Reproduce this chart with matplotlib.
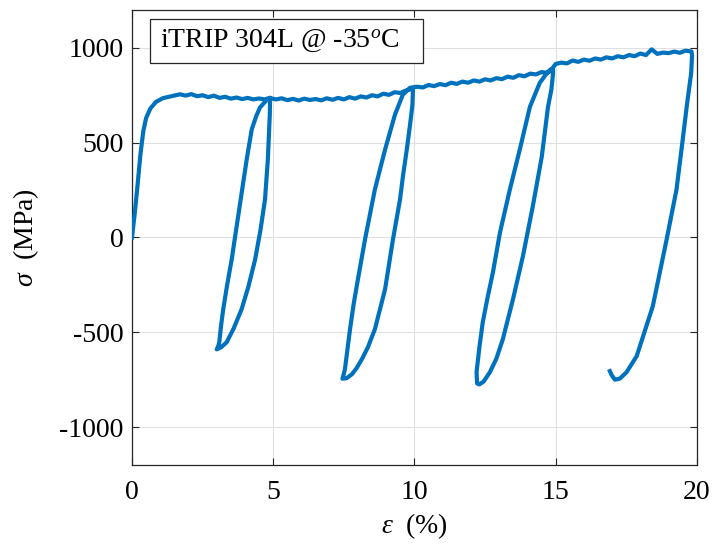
import numpy as np
import matplotlib
matplotlib.use('Agg')
import matplotlib.pyplot as plt
from matplotlib.patches import Rectangle

# strain (%) / stress (MPa), segment by segment
strain_load = [0, 0.1, 0.2, 0.3, 0.4, 0.5, 0.65, 0.85, 1.1, 1.4, 1.7, 1.9, 2.1, 2.3, 2.5, 2.7, 2.9, 3.1, 3.3, 3.5, 3.7, 3.9, 4.1, 4.3, 4.5, 4.7, 4.89]
stress_load = [0, 130, 280, 440, 560, 630, 680, 715, 735, 745, 755, 748, 756, 745, 750, 740, 748, 736, 742, 732, 738, 730, 736, 728, 733, 728, 737]

strain_loop1 = [4.88, 4.86, 4.81, 4.71, 4.55, 4.36, 4.12, 3.88, 3.6, 3.35, 3.15, 3.0,
                3.05, 3.09, 3.15, 3.23, 3.37, 3.53, 3.8, 4.06, 4.24, 4.4, 4.53, 4.75, 4.9]
stress_loop1 = [650, 584, 410, 200, 40, -116, -260, -379, -480, -553, -580, -590,
                -575, -553, -470, -379, -250, -116, 150, 410, 570, 640, 685, 722, 735]

strain_plat2 = [5.1, 5.3, 5.5, 5.7, 5.9, 6.1, 6.3, 6.5, 6.7, 6.9, 7.1, 7.3, 7.5, 7.7, 7.9, 8.1, 8.3, 8.5, 8.7, 8.9, 9.1, 9.3, 9.5, 9.7, 9.95]
stress_plat2 = [728, 734, 724, 731, 722, 732, 725, 730, 723, 734, 726, 736, 728, 740, 732, 744, 738, 750, 744, 758, 752, 766, 762, 775, 785]

strain_loop2 = [9.93, 9.85, 9.73, 9.6, 9.49, 9.24, 8.96, 8.6, 8.35, 8.14, 7.95, 7.79, 7.6, 7.45,
                7.5, 7.54, 7.62, 7.72, 7.85, 8.0, 8.25, 8.6, 8.96, 9.31, 9.59, 9.84, 9.95]
stress_loop2 = [700, 600, 463, 330, 200, -11, -274, -484, -580, -642, -690, -721, -742, -745,
                -720, -695, -600, -484, -350, -221, -11, 253, 463, 647, 753, 789, 792]

strain_plat3 = [10.1, 10.3, 10.5, 10.7, 10.9, 11.1, 11.3, 11.5, 11.7, 11.9, 12.1, 12.3, 12.5, 12.7, 12.9, 13.1, 13.3, 13.5, 13.7, 13.9, 14.1, 14.3, 14.5, 14.7, 14.91]
stress_plat3 = [795, 791, 804, 798, 809, 803, 816, 810, 822, 816, 828, 822, 834, 828, 840, 835, 848, 842, 856, 850, 864, 860, 872, 868, 885]

strain_loop3 = [14.91, 14.85, 14.73, 14.51, 14.19, 13.84, 13.49, 13.13, 12.9, 12.67, 12.45, 12.3, 12.22,
                12.2, 12.3, 12.42, 12.6, 12.78, 13.03, 13.38, 13.73, 14.09, 14.44, 14.73, 14.9]
stress_loop3 = [868, 780, 689, 426, 163, -100, -326, -537, -640, -711, -760, -775, -770,
                -711, -580, -447, -310, -184, 26, 253, 463, 689, 816, 874, 895]

strain_plat4 = [15.0, 15.2, 15.4, 15.6, 15.8, 16.0, 16.2, 16.4, 16.6, 16.8, 17.0, 17.2, 17.4, 17.6, 17.8, 18.0, 18.2, 18.4, 18.6, 18.8, 19.0, 19.2, 19.4, 19.6, 19.81]
stress_plat4 = [915, 922, 918, 933, 926, 938, 932, 944, 938, 950, 944, 956, 950, 962, 956, 970, 962, 992, 968, 975, 972, 980, 974, 985, 981]

strain_unload = [19.83, 19.8, 19.65, 19.5, 19.28, 18.93, 18.44, 17.87, 17.51, 17.27, 17.1, 16.98, 16.92]
stress_unload = [960, 868, 700, 516, 253, -11, -363, -626, -711, -745, -750, -725, -705]

xticks = [0, 5, 10, 15, 20]
yticks = [-1000, -500, 0, 500, 1000]

strain = np.concatenate([strain_load, strain_loop1, strain_plat2, strain_loop2,
                         strain_plat3, strain_loop3, strain_plat4, strain_unload])
stress = np.concatenate([stress_load, stress_loop1, stress_plat2, stress_loop2,
                         stress_plat3, stress_loop3, stress_plat4, stress_unload])

plt.rcParams['font.family'] = ['Liberation Serif', 'DejaVu Serif']
plt.rcParams['mathtext.fontset'] = 'custom'
plt.rcParams['mathtext.rm'] = 'Liberation Serif'
plt.rcParams['mathtext.it'] = 'Liberation Serif:italic'
plt.rcParams['axes.unicode_minus'] = False

fig = plt.figure(figsize=(7.15, 5.45), dpi=100)
ax = fig.add_axes([0.1846, 0.1468, 0.79, 0.835])

ax.plot(strain, stress, color='#0072BD', lw=3, zorder=3)

ax.set_xlim(0, 20)
ax.set_ylim(-1200, 1200)
ax.set_xticks(xticks)
ax.set_yticks(yticks)
ax.grid(True, color='#e0e0e0', lw=0.8)
ax.set_axisbelow(True)
ax.tick_params(direction='in', top=True, right=True, length=5, width=0.8, color='#262626', labelsize=20)
ax.tick_params(axis='x', pad=11)
ax.tick_params(axis='y', pad=6)
for s in ax.spines.values():
    s.set_color('#262626')
    s.set_linewidth(0.9)

ax.set_xlabel(r'$\varepsilon\ $ (%)', fontsize=20, labelpad=4)
ax.set_ylabel(r'$\sigma\ $ (MPa)', fontsize=20, labelpad=13)

# annotation box
ax.add_patch(Rectangle((0.032, 0.8835), 0.483, 0.0965, transform=ax.transAxes,
                       fc='white', ec='#262626', lw=0.9, zorder=4))
ax.text(0.0496, 0.932, 'iTRIP 304L @ -35$^o$C', transform=ax.transAxes, fontsize=20,
        va='center', ha='left', zorder=5)

fig.savefig('out.png', dpi=100)
